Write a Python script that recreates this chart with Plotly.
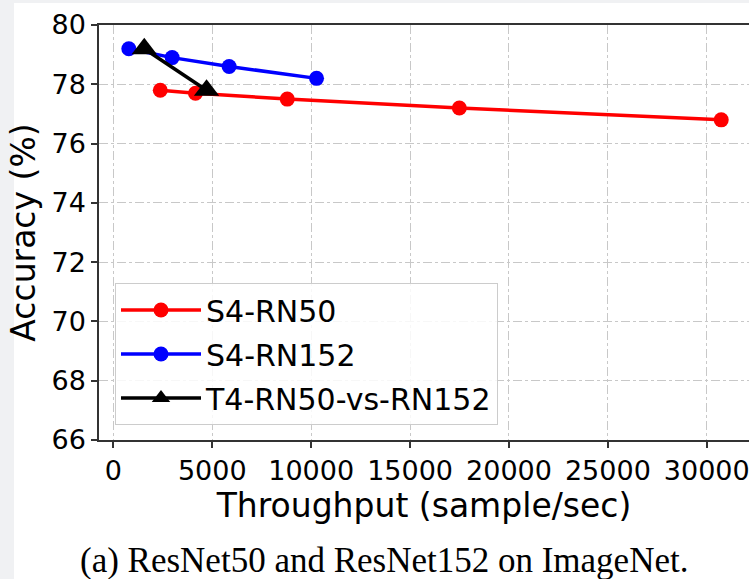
import plotly.graph_objects as go

# Data
rn50_throughput = [2370, 4150, 8790, 17490, 30730]
rn50_accuracy = [77.8, 77.7, 77.5, 77.2, 76.8]

rn152_throughput = [780, 2970, 5850, 10270]
rn152_accuracy = [79.2, 78.9, 78.6, 78.2]

t4_throughput = [1560, 4710]
t4_accuracy = [79.2, 77.8]

series_names = ["S4-RN50", "S4-RN152", "T4-RN50-vs-RN152"]
x_ticks = [0, 5000, 10000, 15000, 20000, 25000, 30000]
y_ticks = [66, 68, 70, 72, 74, 76, 78, 80]
x_title = "Throughput (sample/sec)"
y_title = "Accuracy (%)"
caption = "(a) ResNet50 and ResNet152 on ImageNet."

W, H = 749, 579
L, R, T, B = 99, 0, 25, 139
PW, PH = W - L - R, H - T - B

fig = go.Figure()
fig.add_trace(go.Scatter(
    x=rn50_throughput, y=rn50_accuracy, name=series_names[0], mode="lines+markers",
    line=dict(color="#ff0000", width=3.5), marker=dict(symbol="circle", size=15, color="#ff0000"),
    legendgroup="a"))
fig.add_trace(go.Scatter(
    x=rn152_throughput, y=rn152_accuracy, name=series_names[1], mode="lines+markers",
    line=dict(color="#0000ff", width=3.5), marker=dict(symbol="circle", size=15, color="#0000ff"),
    legendgroup="b"))
fig.add_trace(go.Scatter(
    x=t4_throughput, y=t4_accuracy, name=series_names[2], mode="lines+markers",
    line=dict(color="#000000", width=3.5), marker=dict(symbol="triangle-up", size=22, color="#000000"),
    legendgroup="c"))

font_sans = "DejaVu Sans"

fig.update_layout(
    width=W, height=H,
    margin=dict(l=L, r=R, t=T, b=B, pad=0),
    paper_bgcolor="#f0f1f3",
    plot_bgcolor="white",
    font=dict(family=font_sans, size=27, color="black"),
    showlegend=True,
    legend=dict(
        x=(115 - L) / PW, y=(440 - 425) / PH, xanchor="left", yanchor="bottom",
        bgcolor="rgba(255,255,255,0.85)", bordercolor="#cccccc", borderwidth=1,
        font=dict(family=font_sans, size=30, color="black"),
        tracegroupgap=2, itemwidth=80,
    ),
    xaxis=dict(
        range=[-728, 32134], tickvals=x_ticks, ticktext=[str(v) for v in x_ticks],
        showline=True, linecolor="#333333", linewidth=1.5, mirror=True,
        ticks="outside", ticklen=6, tickwidth=1.5, tickcolor="#333333",
        showgrid=True, gridcolor="#c8c8c8", gridwidth=1, griddash="dashdot",
        zeroline=False, ticklabeloverflow="allow",
        tickfont=dict(family=font_sans, size=27),
        title=dict(text=x_title, font=dict(family=font_sans, size=33), standoff=6),
    ),
    yaxis=dict(
        range=[66, 80], tickvals=y_ticks, ticktext=[str(v) for v in y_ticks],
        showline=True, linecolor="#333333", linewidth=1.5, mirror=False,
        ticks="outside", ticklen=6, tickwidth=1.5, tickcolor="#333333",
        showgrid=True, gridcolor="#c8c8c8", gridwidth=1, griddash="dashdot",
        zeroline=False,
        tickfont=dict(family=font_sans, size=27),
        title=dict(text=y_title, font=dict(family=font_sans, size=33), standoff=6),
    ),
    shapes=[dict(
        type="rect", xref="paper", yref="paper", layer="below",
        x0=(14 - L) / PW, x1=1.05, y0=-(B + 5) / PH, y1=(440 - 3) / PH,
        fillcolor="white", line=dict(width=0),
    )],
    annotations=[dict(
        text=caption, xref="paper", yref="paper",
        x=(384 - L) / PW, y=(440 - 560) / PH, xanchor="center", yanchor="middle",
        showarrow=False, font=dict(family="Liberation Serif", size=35, color="black"),
    )],
)

fig.write_html("out.html")
